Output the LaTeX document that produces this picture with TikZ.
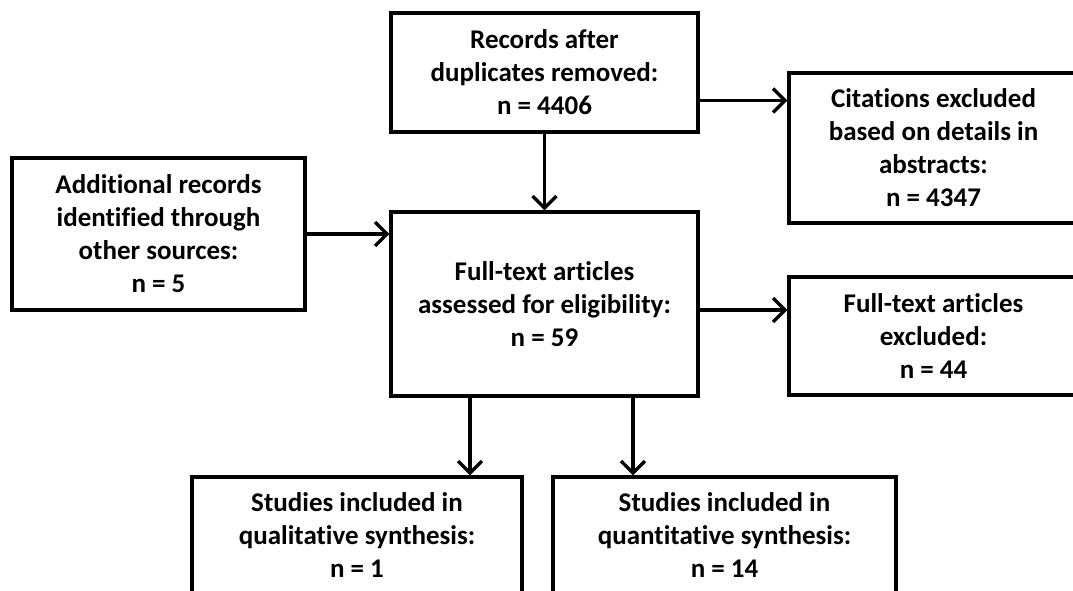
\documentclass[tikz,border=0pt]{standalone}
\usepackage{fontspec}
\setmainfont{Carlito}[Ligatures=NoCommon]
\usepackage{tikz}
\usetikzlibrary{positioning,arrows.meta}

\begin{document}
\begin{tikzpicture}[node distance=2cm,on grid,
   block/.style={draw,line width=3.3pt,align=center,inner sep=0pt,
      font=\fontsize{27}{33}\selectfont\bfseries},
   arr/.style={line width=3.3pt,-{Straight Barb[length=12pt,width=24pt,line width=3.3pt]}}]
   \useasboundingbox (0,0) rectangle (1073pt,-591pt);
   \clip (0,0) rectangle (1073pt,-591pt);
   \fill[white] (0,0) rectangle (1073pt,-591pt);
   \node[block,minimum width=307pt,minimum height=184pt] (full) at (544.5pt,-304pt)
      {Full-text articles\\assessed for eligibility:\\n = 59};
   \node[block,minimum width=307pt,minimum height=119pt] (recs) [above=231.5pt of full]
      {Records after\\duplicates removed:\\n = 4406};
   \node[block,minimum width=289pt,minimum height=150pt] (cite) [above right=156pt and 389pt of full]
      {Citations excluded\\based on details in\\abstracts:\\n = 4347};
   \node[block,minimum width=293pt,minimum height=152pt] (addl) [above left=70pt and 386pt of full]
      {Additional records\\identified through\\other sources:\\n = 5};
   \node[block,minimum width=289pt,minimum height=118pt] (excl) [below right=32pt and 389pt of full]
      {Full-text articles\\excluded:\\n = 44};
   \node[block,minimum width=330pt,minimum height=116pt] (qual) [below left=231pt and 187.5pt of full]
      {Studies included in\\qualitative synthesis:\\n = 1};
   \node[block,minimum width=343pt,minimum height=116pt] (quant) [below right=231pt and 180pt of full]
      {Studies included in\\quantitative synthesis:\\n = 14};
   \path ([yshift=-28pt]recs.east) coordinate (recsout)
         ([yshift=-6pt]full.east) coordinate (fullout)
         ([xshift=113pt]qual.north) coordinate (qualin)
         ([xshift=-91.5pt]quant.north) coordinate (quantin);
    \draw[arr] (recs) -- (full);
    \draw[arr] (recsout) -- (recsout -| cite.west);
    \draw[arr] (addl.east) -- (addl.east -| full.west);
    \draw[arr] (fullout) -- (fullout -| excl.west);
    \draw[arr] (full.south -| qualin) -- (qualin);
    \draw[arr] (full.south -| quantin) -- (quantin);
\end{tikzpicture}
\end{document}
